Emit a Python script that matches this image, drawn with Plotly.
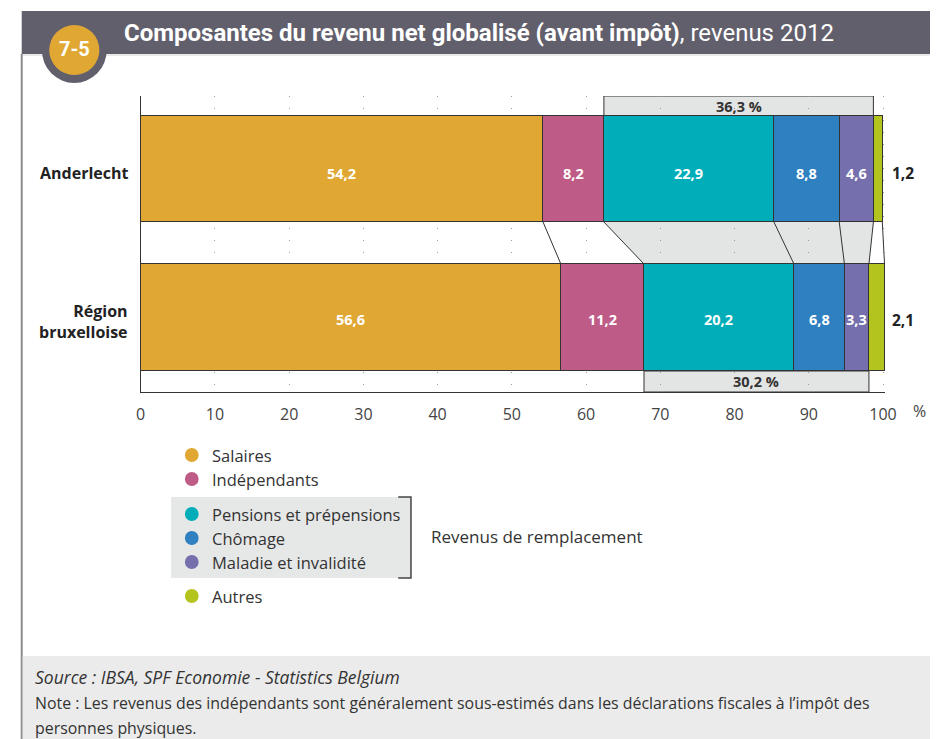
import numpy as np
import plotly.graph_objects as go

# data
categories = ["Anderlecht", "Région<br>bruxelloise"]
components = ["Salaires", "Indépendants", "Pensions et prépensions",
              "Chômage", "Maladie et invalidité", "Autres"]
anderlecht = [54.2, 8.2, 22.9, 8.8, 4.6, 1.2]
region = [56.6, 11.2, 20.2, 6.8, 3.3, 2.1]
remplacement = [36.3, 30.2]
xticks = [0, 10, 20, 30, 40, 50, 60, 70, 80, 90, 100]

colors = ["#e0a733", "#bf5b87", "#00adb8", "#2f80c0", "#7570ad", "#b3c41f"]

W, H = 941, 739
FONT = "Open Sans, Noto Sans, sans-serif"
TITLE_FONT = "Roboto, Open Sans, sans-serif"


def px(x):
    return x / W


def py(y):
    return 1 - y / H


def fmt(v):
    return f"{v:.1f}".replace(".", ",")


def note(x, y, text, size, color="#333333", family=FONT, xanchor="left"):
    # text placed in page pixel coordinates
    return dict(x=px(x), y=py(y), xref="paper", yref="paper",
                xanchor=xanchor, yanchor="middle", showarrow=False, text=text,
                font=dict(family=family, size=size, color=color))


# vertical layout of the plot in pixel-like units (0 = x axis)
y_top, h_top = 223, 106
y_bot, h_bot = 74.5, 107
ys = [y_top, y_bot]
text_shift = [-4, -2]
series = [anderlecht, region]

fig = go.Figure()

for i, comp in enumerate(components):
    fig.add_trace(go.Bar(
        y=ys, x=[anderlecht[i], region[i]], orientation="h",
        width=[h_top, h_bot], name=comp,
        marker=dict(color=colors[i], line=dict(color="#333333", width=1)),
        showlegend=False, hoverinfo="skip"))

annotations = []
shapes = []

# labels in bars
for vals, yc, dy in zip(series, ys, text_shift):
    cum = np.cumsum(vals)
    starts = cum - np.array(vals)
    for j, v in enumerate(vals):
        if j < len(vals) - 1:
            annotations.append(dict(
                x=starts[j] + v / 2, y=yc + dy, xref="x", yref="y",
                text=f"<b>{fmt(v)}</b>", showarrow=False,
                font=dict(family=FONT, size=14.5, color="white")))
        else:
            annotations.append(dict(
                x=px(900), y=yc + dy, xref="paper", yref="y", xanchor="left",
                yanchor="middle", text=f"<b>{fmt(v)}</b>", showarrow=False,
                font=dict(family=FONT, size=15.5, color="#222222")))

# category labels
for cat, yc in zip(categories, ys):
    annotations.append(dict(
        x=px(127), y=yc - 4, xref="paper", yref="y", xanchor="right",
        yanchor="middle", align="right", text=f"<b>{cat}</b>", showarrow=False,
        font=dict(family=FONT, size=16, color="#222222")))

# connectors between the two bars
cum_a = np.cumsum(anderlecht)
cum_r = np.cumsum(region)
ya = y_top - h_top / 2
yr = y_bot + h_bot / 2
shapes.append(dict(
    type="path", xref="x", yref="y", layer="below",
    path=f"M {cum_a[1]} {ya} L {cum_a[4]} {ya} L {cum_r[4]} {yr} L {cum_r[1]} {yr} Z",
    fillcolor="#e3e4e4", line=dict(width=0)))
for a, r in zip(cum_a, cum_r):
    shapes.append(dict(type="line", xref="x", yref="y", x0=a, y0=ya, x1=r, y1=yr,
                       line=dict(color="#333333", width=1)))

# replacement income boxes
y_box_top0 = y_top + h_top / 2
shapes.append(dict(type="rect", xref="x", yref="y", layer="below",
                   x0=cum_a[1], x1=cum_a[4], y0=y_box_top0, y1=296,
                   fillcolor="#e3e4e4", line=dict(color="#333333", width=1)))
annotations.append(dict(x=(cum_a[1] + cum_a[4]) / 2, y=(y_box_top0 + 296) / 2,
                        xref="x", yref="y", showarrow=False,
                        text=f"<b>{fmt(remplacement[0])} %</b>",
                        font=dict(family=FONT, size=14.5, color="#333333")))
y_box_bot1 = y_bot - h_bot / 2
shapes.append(dict(type="rect", xref="x", yref="y", layer="below",
                   x0=cum_r[1], x1=cum_r[4], y0=0, y1=y_box_bot1,
                   fillcolor="#e3e4e4", line=dict(color="#333333", width=1)))
annotations.append(dict(x=(cum_r[1] + cum_r[4]) / 2, y=y_box_bot1 / 2,
                        xref="x", yref="y", showarrow=False,
                        text=f"<b>{fmt(remplacement[1])} %</b>",
                        font=dict(family=FONT, size=14.5, color="#333333")))

annotations.append(note(930, 411, "%", 16, "#444444", xanchor="center"))

# header
shapes.append(dict(type="rect", xref="paper", yref="paper", x0=px(17), x1=1,
                   y0=py(54), y1=py(11), fillcolor="#625f6d", line=dict(width=0)))
shapes.append(dict(type="line", xref="paper", yref="paper", x0=px(17), x1=1,
                   y0=py(55), y1=py(55), line=dict(color="#d3d3d6", width=1)))
shapes.append(dict(type="circle", xref="paper", yref="paper",
                   x0=px(37.5), x1=px(103.5), y0=py(83), y1=py(17),
                   fillcolor="#625f6d", line=dict(width=0)))
shapes.append(dict(type="circle", xref="paper", yref="paper",
                   x0=px(45), x1=px(96), y0=py(75), y1=py(25),
                   fillcolor="#e0a733", line=dict(width=0)))
annotations.append(note(70.5, 49, "<b>7-5</b>", 20, "white", TITLE_FONT, "center"))
annotations.append(note(119, 33, "<b>Composantes du revenu net globalisé (avant impôt)</b>, revenus 2012",
                        24, "white", TITLE_FONT))

# left frame line and footer
shapes.append(dict(type="line", xref="paper", yref="paper", x0=px(17), x1=px(17),
                   y0=0, y1=py(54), line=dict(color="#8c8c8c", width=2)))
shapes.append(dict(type="rect", xref="paper", yref="paper", x0=px(18), x1=1,
                   y0=0, y1=py(656), fillcolor="#ebebeb", line=dict(width=0)))
annotations.append(note(28, 677, "<i>Source : IBSA, SPF Economie - Statistics Belgium</i>", 17.5))
annotations.append(note(28, 703, "Note : Les revenus des indépendants sont généralement sous-estimés dans les déclarations fiscales à l’impôt des", 15.9))
annotations.append(note(28, 728, "personnes physiques.", 15.9))

# legend
leg_y = [455, 479, 514, 538, 562, 596]
shapes.append(dict(type="rect", xref="paper", yref="paper", layer="below",
                   x0=px(169), x1=px(413), y0=py(578), y1=py(497),
                   fillcolor="#e6e7e7", line=dict(width=0)))
shapes.append(dict(type="path", xref="paper", yref="paper",
                   path=f"M {px(400)} {py(497)} L {px(413)} {py(497)} L {px(413)} {py(578)} L {px(400)} {py(578)}",
                   line=dict(color="#444444", width=1.5)))
annotations.append(note(431, 536, "Revenus de remplacement", 17))
for comp, col, ly in zip(components, colors, leg_y):
    shapes.append(dict(type="circle", xref="paper", yref="paper",
                       x0=px(183), x1=px(197), y0=py(ly + 7), y1=py(ly - 7),
                       fillcolor=col, line=dict(width=0)))
    annotations.append(note(209, ly, comp, 16.5))

fig.update_layout(
    width=W, height=H,
    margin=dict(l=0, r=0, t=0, b=0),
    paper_bgcolor="white", plot_bgcolor="rgba(0,0,0,0)",
    barmode="stack", bargap=0,
    shapes=shapes, annotations=annotations,
    xaxis=dict(domain=[px(138), px(895.5)], range=[0, 100.3],
               tickvals=xticks, ticktext=[str(t) for t in xticks],
               showgrid=True, gridcolor="#9a9a9a", griddash="1px,11px", gridwidth=1,
               zeroline=False, showline=True, linecolor="#333333", linewidth=1,
               ticks="", ticklabelstandoff=8,
               tickfont=dict(family=FONT, size=16, color="#444444"),
               fixedrange=True),
    yaxis=dict(domain=[py(392), py(96)], range=[0, 296],
               showgrid=False, zeroline=False, showticklabels=False,
               showline=True, linecolor="#333333", linewidth=1, ticks="",
               fixedrange=True),
)

fig.write_html("out.html", config={"displayModeBar": False},
               post_script="document.body.style.margin='0px';document.body.style.overflow='hidden';")
